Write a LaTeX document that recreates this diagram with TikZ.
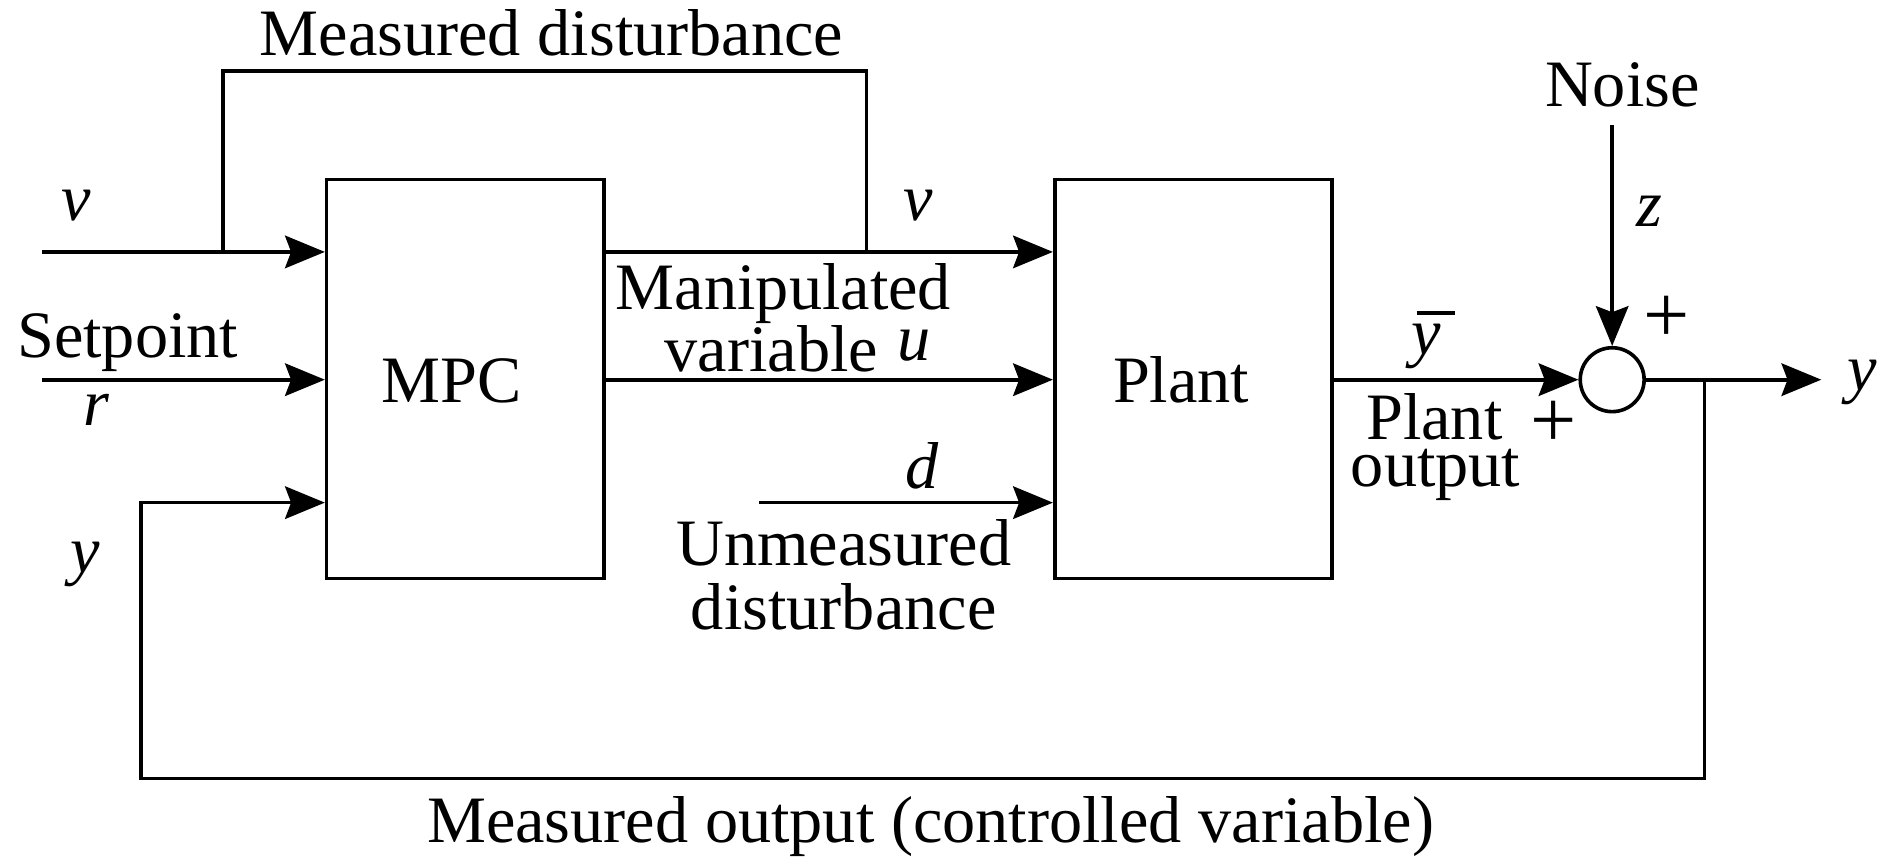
\documentclass[tikz,border=0pt]{standalone}
\usepackage{fontspec}
\setmainfont{Liberation Serif}
\usetikzlibrary{arrows.meta}
\newcommand{\ybarlbl}{\rlap{\kern0.08em\raisebox{0.6em}{\rule{0.58em}{1.5pt}}}\textit{y}}
\begin{document}
\begin{tikzpicture}[x=0.5pt,y=-0.5pt, line width=1.5pt,
  every node/.style={font=\fontsize{27.5}{33}\selectfont, inner sep=0pt},
  blockbox/.style={draw, minimum width=115pt, minimum height=165.5pt},
  sumnode/.style={draw, circle, minimum size=26.5pt},
  arr/.style={-{Stealth[length=16.5pt,width=13.5pt,inset=2.5pt]}},
  lbl/.style={anchor=base},
  signlbl/.style={font=\fontsize{34}{34}\selectfont}]
\useasboundingbox (0,0) rectangle (1568,717.6);
% blocks
\node[blockbox] (mpc) at (386,314.5) {};
\node[blockbox] (plant) at (990,314.5) {};
\node[sumnode] (sum) at (1337.5,315) {};
% coordinates
\coordinate (vin) at (35,209);
\coordinate (rin) at (35,315);
\coordinate (vbr) at (185,209);
\coordinate (vtop1) at (185,59);
\coordinate (vtop2) at (719,59);
\coordinate (vjoin) at (719,209);
\coordinate (din) at (630,417);
\coordinate (fbr) at (1414,315);
\coordinate (fb1) at (1414,646);
\coordinate (fb2) at (117,646);
\coordinate (fb3) at (117,417);
\coordinate (yout) at (1511,315);
\coordinate (noise) at (1337.5,104);
% connectors
\draw[arr] (vin) -- (mpc.west |- vin);
\draw[arr] (rin) -- (mpc.west |- rin);
\draw (vbr) -- (vtop1) -- (vtop2) -- (vjoin);
\draw[arr] (mpc.east |- vin) -- (plant.west |- vin);
\draw[arr] (mpc.east |- rin) -- (plant.west |- rin);
\draw[arr] (din) -- (plant.west |- din);
\draw[arr] (plant.east |- rin) -- (sum.west);
\draw[arr] (sum.east) -- (yout);
\draw[arr] (noise) -- (sum.north);
\draw[arr] (fbr) -- (fb1) -- (fb2) -- (fb3) -- (mpc.west |- fb3);
% labels
\node[lbl] (tmd) at (457.5,46) {Measured disturbance};
\node[lbl] (tv1) at (63,183) {\textit{v}};
\node[lbl] (tv2) at (762,183) {\textit{v}};
\node[lbl] (tsp) at (106,297) {Setpoint};
\node[lbl] (tr) at (80,353) {\textit{r}};
\node[lbl] (tmpc) at (375,334) {MPC};
\node[lbl] (tman) at (650,257) {Manipulated};
\node[lbl] (tvar) at (640,308) {variable};
\node[lbl] (tu) at (758,299) {\textit{u}};
\node[lbl] (tplant) at (980,334) {Plant};
\node[lbl] (td) at (765,405) {\textit{d}};
\node[lbl] (tum) at (700,469) {Unmeasured};
\node[lbl] (tdist) at (700,522) {disturbance};
\node[lbl] (tyl) at (71,475) {\textit{y}};
\node[lbl] (tybar) at (1183,294) {\ybarlbl};
\node[lbl] (tpo1) at (1190,365) {Plant};
\node[lbl] (tpo2) at (1191,404) {output};
\node[signlbl] (tplus1) at (1289,352) {+};
\node[signlbl] (tplus2) at (1383,265) {+};
\node[lbl] (tz) at (1368,188) {\textit{z}};
\node[lbl] (tnoise) at (1346,88.5) {Noise};
\node[lbl] (tyr) at (1545,324) {\textit{y}};
\node[lbl] (tmo) at (772,699) {Measured output (controlled variable)};
\end{tikzpicture}
\end{document}
